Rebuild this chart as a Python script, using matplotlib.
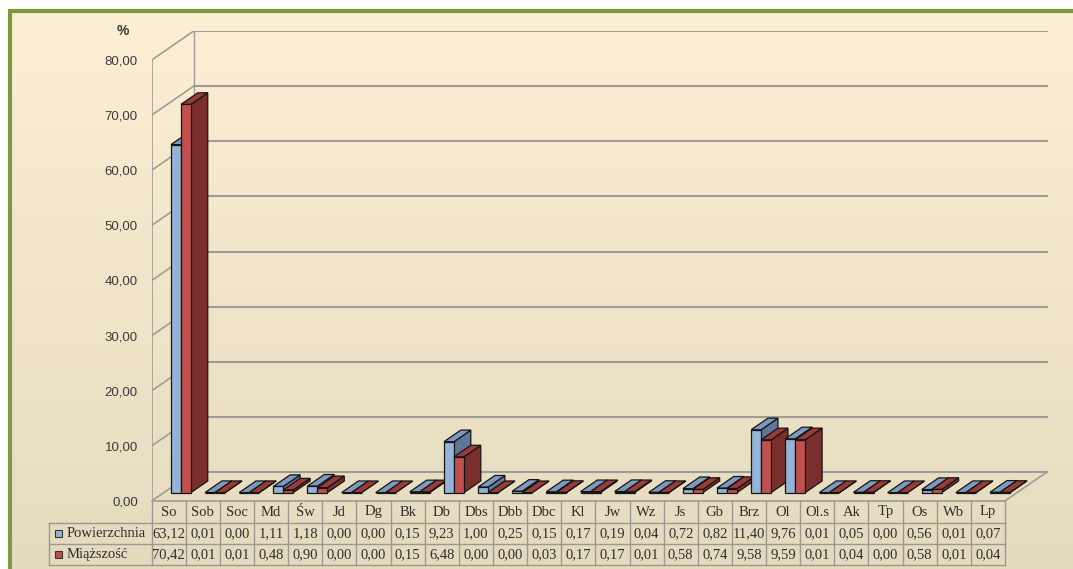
import numpy as np
import matplotlib
matplotlib.use("Agg")
import matplotlib.pyplot as plt
from matplotlib.patches import Polygon, Rectangle

# ---- data ------------------------------------------------------------- #
categories = ["So", "Sob", "Soc", "Md", "Św", "Jd", "Dg", "Bk", "Db", "Dbs",
              "Dbb", "Dbc", "Kl", "Jw", "Wz", "Js", "Gb", "Brz", "Ol", "Ol.s",
              "Ak", "Tp", "Os", "Wb", "Lp"]
powierzchnia = [63.12, 0.01, 0.00, 1.11, 1.18, 0.00, 0.00, 0.15, 9.23, 1.00,
                0.25, 0.15, 0.17, 0.19, 0.04, 0.72, 0.82, 11.40, 9.76, 0.01,
                0.05, 0.00, 0.56, 0.01, 0.07]
miazszosc = [70.42, 0.01, 0.01, 0.48, 0.90, 0.00, 0.00, 0.15, 6.48, 0.00,
             0.00, 0.03, 0.17, 0.17, 0.01, 0.58, 0.74, 9.58, 9.59, 0.01,
             0.04, 0.00, 0.58, 0.01, 0.04]
series_names = ["Powierzchnia", "Miąższość"]
yticks = [0, 10, 20, 30, 40, 50, 60, 70, 80]

# ---- styling ---------------------------------------------------------- #
W, H = 1073, 569
FRONT = ["#95B3D7", "#C0504D"]
TOP = ["#7D99BF", "#9C3A37"]
SIDE = ["#5F7797", "#7A2F2D"]
GRID = "#9E9C95"
TXT = "#2E2E2E"
SERIF = "Liberation Serif"
SANS = "Liberation Sans"

# pixel geometry of the plot box (front axis -> back wall)
px_left, px_right = 151.7, 1048.7
px_zero, px_top = 501.0, 31.0
col_px = 34.13                     # category width in pixels
unit_px = 5.5125                   # pixels per percent
DX, DY = 42 / col_px, 29 / unit_px  # full depth vector in data units
f0, fd = 0.29, 0.40                # bar depth start / thickness
bw = 0.293                         # bar width (category units)

fig = plt.figure(figsize=(W / 100, H / 100), dpi=100, facecolor="white")

# background panel with gradient and green frame
bg = fig.add_axes([0, 0, 1, 1], zorder=-10)
bg.axis("off")
top_c = np.array(matplotlib.colors.to_rgb("#FDEFD3"))
bot_c = np.array(matplotlib.colors.to_rgb("#E4DBBF"))
t = np.linspace(0, 1, 256)[:, None, None]
grad = top_c * (1 - t) + bot_c * t
bg.imshow(grad, extent=(10, W, H, 11), aspect="auto", interpolation="bilinear")
bg.plot([8, W], [11, 11], color="#7E9A3F", lw=3, solid_capstyle="butt")
bg.plot([10, 10], [9, H], color="#7E9A3F", lw=3, solid_capstyle="butt")
bg.set_xlim(0, W); bg.set_ylim(H, 0)

# main axes in data units
ax = fig.add_axes([px_left / W, (H - px_zero) / H,
                   (px_right - px_left) / W, (px_zero - px_top) / H])
ax.set_facecolor("none")
n = len(categories)
x0 = -0.5
ax.set_xlim(x0, x0 + (px_right - px_left) / col_px)
ax.set_ylim(0, (px_zero - px_top) / unit_px)
for s in ax.spines.values():
    s.set_visible(False)
ax.set_xticks([])
ax.set_yticks(yticks)
ax.set_yticklabels([f"{v:.2f}".replace(".", ",") for v in yticks],
                   family=SANS, fontsize=9.5, color="#3A3A3A")
ax.tick_params(axis="y", length=0, pad=10)

# walls and floor
xe = x0 + n
for v in yticks:
    ax.plot([x0 + DX, xe + DX], [v + DY, v + DY], color=GRID, lw=1.5, zorder=1)
    ax.plot([x0, x0 + DX], [v, v + DY], color=GRID, lw=1.2, zorder=1)
ax.plot([x0, x0], [0, yticks[-1]], color=GRID, lw=1.2, zorder=1)
ax.plot([x0 + DX, x0 + DX], [DY, yticks[-1] + DY], color=GRID, lw=1.0, zorder=1)
ax.plot([xe, xe + DX], [0, DY], color=GRID, lw=1.2, zorder=1)
ax.plot([x0, xe], [0, 0], color=GRID, lw=1.2, zorder=1, clip_on=False)

# pseudo-3D bars, drawn left to right so later bars hide earlier sides
z = 2
for i in range(n):
    for k, vals in enumerate([powierzchnia, miazszosc]):
        h = vals[i]
        xl = i + f0 * DX + (k - 1) * bw
        xr = xl + bw
        b = f0 * DY
        ddx, ddy = fd * DX, fd * DY
        side = [(xr, b), (xr, b + h), (xr + ddx, b + h + ddy), (xr + ddx, b + ddy)]
        top = [(xl, b + h), (xr, b + h), (xr + ddx, b + h + ddy), (xl + ddx, b + h + ddy)]
        ax.add_patch(Polygon(side, closed=True, fc=SIDE[k], ec="#151515", lw=0.9, zorder=z))
        ax.add_patch(Polygon(top, closed=True, fc=TOP[k], ec="#151515", lw=0.9, zorder=z))
        ax.bar(xl, h, width=bw, bottom=b, align="edge", color=FRONT[k],
               edgecolor="#151515", linewidth=0.9, zorder=z + 0.5)
        z += 1

# % label
ax.text(x0 - 28.7 / col_px, ax.get_ylim()[1], "%", family=SANS, fontsize=10,
        fontweight="bold", color="#3A3A3A", ha="center", va="center", clip_on=False)

# data table under the floor
r1, r2, r3 = -22 / unit_px, -43 / unit_px, -64 / unit_px
xt = x0 - (px_left - 48.7) / col_px
tl = dict(color="#9A9890", lw=1.0, clip_on=False, zorder=1)
for yy in (r1, r2, r3):
    ax.plot([xt, xe], [yy, yy], **tl)
ax.plot([xt, xt], [r1, r3], **tl)
for j in range(n + 1):
    ax.plot([x0 + j, x0 + j], [0, r3], **tl)
for i, c in enumerate(categories):
    ax.text(i, r1 / 2, c, family=SERIF, fontsize=10.5, color=TXT,
            ha="center", va="center", clip_on=False)
for k, (name, vals) in enumerate(zip(series_names, [powierzchnia, miazszosc])):
    yc = [r1, r2][k] + (r2 - r1) / 2
    for i, v in enumerate(vals):
        ax.text(i, yc, f"{v:.2f}".replace(".", ","), family=SERIF, fontsize=10.5,
                color=TXT, ha="center", va="center", clip_on=False)
    sq = 7 / col_px
    ax.add_patch(Rectangle((xt + 6.5 / col_px, yc - 3.5 / unit_px), sq, 7 / unit_px,
                           fc=FRONT[k], ec="#333333", lw=0.8, clip_on=False))
    ax.text(xt + 17.5 / col_px, yc, name, family=SERIF, fontsize=10.5, color=TXT,
            ha="left", va="center", clip_on=False)

fig.savefig("out.png", dpi=100, facecolor="white")
